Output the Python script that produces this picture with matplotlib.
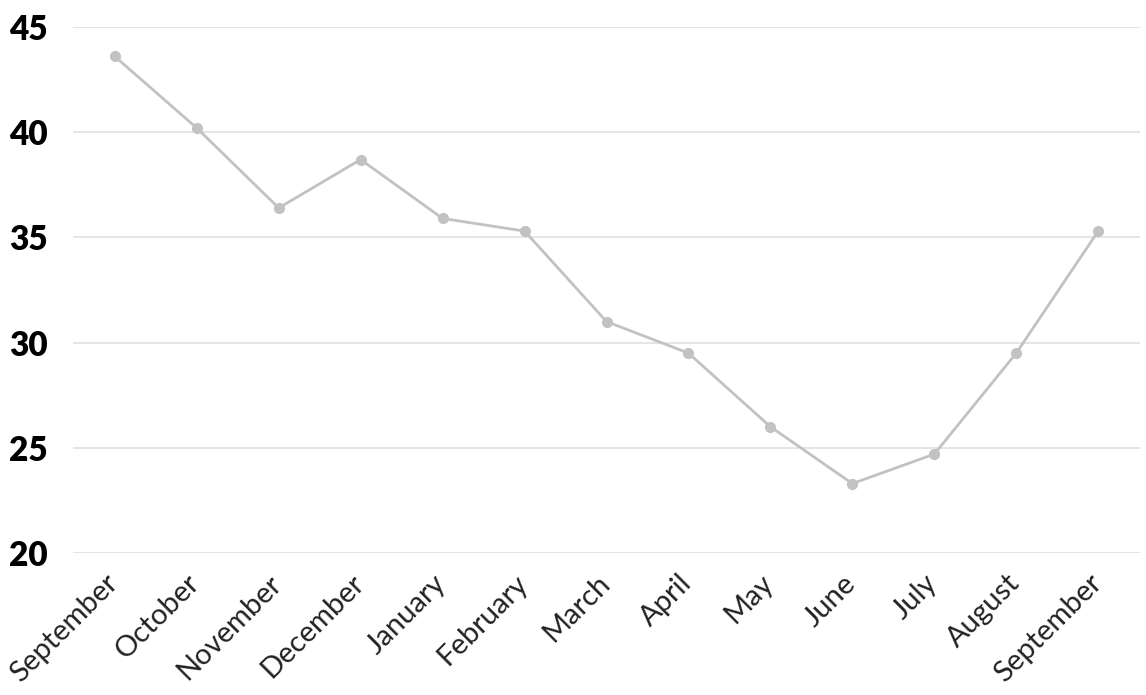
import matplotlib
matplotlib.use("Agg")
import matplotlib.pyplot as plt
import matplotlib.transforms as mtransforms

months = ["September", "October", "November", "December", "January", "February",
          "March", "April", "May", "June", "July", "August", "September"]
values = [43.6, 40.2, 36.4, 38.7, 35.9, 35.3, 31.0, 29.5, 26.0, 23.3, 24.7, 29.5, 35.3]
yticks = [20, 25, 30, 35, 40, 45]

plt.rcParams['font.family'] = ['Lato', 'DejaVu Sans']

fig = plt.figure(figsize=(11.46, 6.95), dpi=100)
ax = fig.add_axes([73 / 1146, 1 - 553 / 695, (1140 - 73) / 1146, (553 - 27) / 695])

x = list(range(len(months)))
ax.plot(x, values, color="#c2c2c2", lw=2, marker="o", markersize=7, zorder=3)

ax.set_ylim(20, 45)
ax.set_xlim(-0.51, len(months) - 0.49)
ax.set_yticks(yticks)
ax.set_yticklabels([str(v) for v in yticks], fontsize=24, fontweight="heavy")
ax.set_xticks(x)
ax.set_xticklabels(months, rotation=45, ha="right", rotation_mode="anchor",
                   fontsize=21, color="#222222")

ax.grid(axis="y", color="#e0e0e0", lw=1.2)
ax.set_axisbelow(True)
for s in ax.spines.values():
    s.set_visible(False)
ax.tick_params(axis="both", length=0)
ax.tick_params(axis="y", pad=18)
ax.tick_params(axis="x", pad=8)

# nudge the rotated labels left/down (after tick_params, which resets transforms)
offset = mtransforms.ScaledTranslation(-10 / 100, -6 / 100, fig.dpi_scale_trans)
for lbl in ax.get_xticklabels():
    lbl.set_transform(lbl.get_transform() + offset)

fig.savefig("out.png", dpi=100)
